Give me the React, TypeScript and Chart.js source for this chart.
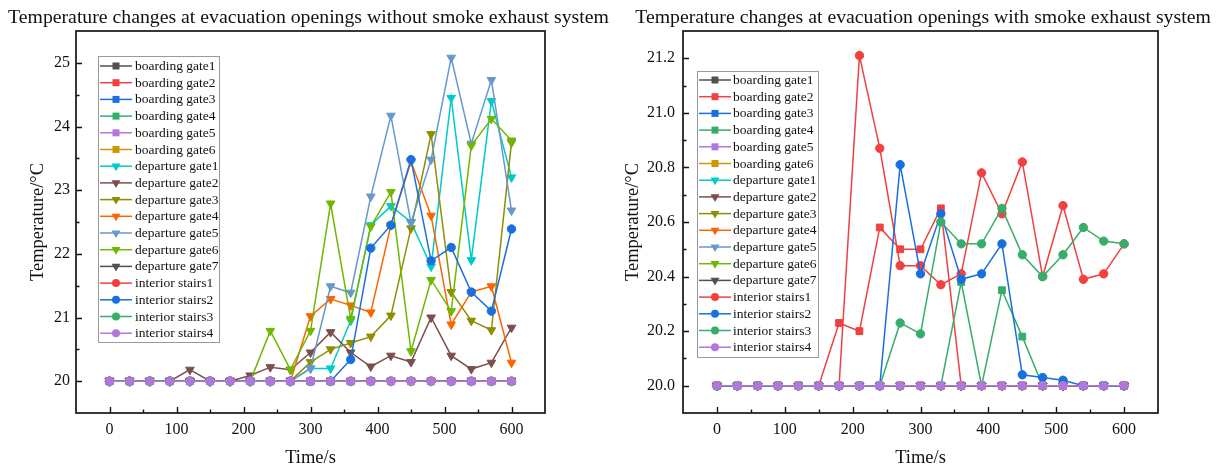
import React, { useEffect, useRef } from 'react';
import { Chart, registerables } from 'chart.js';

Chart.register(...registerables);

// ---------- data ----------
const TIMES = [0, 30, 60, 90, 120, 150, 180, 210, 240, 270, 300, 330, 360, 390, 420, 450, 480, 510, 540, 570, 600];

const SERIES_NAMES = [
  'boarding gate1', 'boarding gate2', 'boarding gate3', 'boarding gate4', 'boarding gate5', 'boarding gate6',
  'departure gate1', 'departure gate2', 'departure gate3', 'departure gate4', 'departure gate5', 'departure gate6', 'departure gate7',
  'interior stairs1', 'interior stairs2', 'interior stairs3', 'interior stairs4',
];
const SERIES_COLORS = [
  '#515151', '#F14040', '#1A6FDF', '#37AD6B', '#B177DE', '#CC9900',
  '#00CBCC', '#7D4E4E', '#8E8E00', '#FB6501', '#6699CC', '#6FB802', '#515151',
  '#F14040', '#1A6FDF', '#37AD6B', '#B177DE',
];
const SERIES_MARKERS = [
  'rect', 'rect', 'rect', 'rect', 'rect', 'rect',
  'tri', 'tri', 'tri', 'tri', 'tri', 'tri', 'tri',
  'circle', 'circle', 'circle', 'circle',
];

const X_TICKS = [0, 100, 200, 300, 400, 500, 600];
const X_MINOR = [50, 150, 250, 350, 450, 550];
const LEFT_Y_TICKS = [20, 21, 22, 23, 24, 25];
const LEFT_Y_MINOR = [20.5, 21.5, 22.5, 23.5, 24.5];
const RIGHT_Y_TICKS = [20.0, 20.2, 20.4, 20.6, 20.8, 21.0, 21.2];
const RIGHT_Y_MINOR = [20.1, 20.3, 20.5, 20.7, 20.9, 21.1];

const LEFT_TITLE = 'Temperature changes at evacuation openings without smoke exhaust system';
const RIGHT_TITLE = 'Temperature changes at evacuation openings with smoke exhaust system';
const X_TITLE = 'Time/s';
const Y_TITLE = 'Temperature/°C';

// without smoke exhaust system
const L_BG1 = [20, 20, 20, 20, 20, 20, 20, 20, 20, 20, 20, 20, 20, 20, 20, 20, 20, 20, 20, 20, 20];
const L_BG2 = [20, 20, 20, 20, 20, 20, 20, 20, 20, 20, 20, 20, 20, 20, 20, 20, 20, 20, 20, 20, 20];
const L_BG3 = [20, 20, 20, 20, 20, 20, 20, 20, 20, 20, 20, 20, 20, 20, 20, 20, 20, 20, 20, 20, 20];
const L_BG4 = [20, 20, 20, 20, 20, 20, 20, 20, 20, 20, 20, 20, 20, 20, 20, 20, 20, 20, 20, 20, 20];
const L_BG5 = [20, 20, 20, 20, 20, 20, 20, 20, 20, 20, 20, 20, 20, 20, 20, 20, 20, 20, 20, 20, 20];
const L_BG6 = [20, 20, 20, 20, 20, 20, 20, 20, 20, 20, 20, 20, 20, 20, 20, 20, 20, 20, 20, 20, 20];
const L_DEP1 = [20, 20, 20, 20, 20, 20, 20, 20, 20, 20, 20.2, 20.2, 20.95, 22.45, 22.75, 22.5, 21.8, 24.45, 21.9, 24.4, 23.2];
const L_DEP2 = [20, 20, 20, 20, 20.18, 20, 20, 20.09, 20.22, 20.18, 20.45, 20.77, 20.45, 20.23, 20.4, 20.3, 21.0, 20.4, 20.19, 20.29, 20.84];
const L_DEP3 = [20, 20, 20, 20, 20, 20, 20, 20, 20, 20, 20.3, 20.5, 20.6, 20.7, 21.03, 22.4, 23.88, 21.4, 20.95, 20.8, 23.75];
const L_DEP4 = [20, 20, 20, 20, 20, 20, 20, 20, 20, 20, 21.02, 21.29, 21.19, 21.08, 22.45, 23.45, 22.6, 20.89, 21.4, 21.49, 20.29];
const L_DEP5 = [20, 20, 20, 20, 20, 20, 20, 20, 20, 20, 20.2, 21.49, 21.39, 22.9, 24.17, 22.49, 23.48, 25.08, 23.73, 24.73, 22.68];
const L_DEP6 = [20, 20, 20, 20, 20, 20, 20, 20, 20.79, 20.18, 20.79, 22.79, 20.98, 22.43, 22.97, 20.47, 21.59, 21.1, 23.7, 24.12, 23.78];
const L_DEP7 = [20, 20, 20, 20, 20, 20, 20, 20, 20, 20, 20, 20, 20, 20, 20, 20, 20, 20, 20, 20, 20];
const L_ST1 = [20, 20, 20, 20, 20, 20, 20, 20, 20, 20, 20, 20, 20, 20, 20, 20, 20, 20, 20, 20, 20];
const L_ST2 = [20, 20, 20, 20, 20, 20, 20, 20, 20, 20, 20, 20, 20.34, 22.09, 22.45, 23.48, 21.89, 22.1, 21.4, 21.1, 22.39];
const L_ST3 = [20, 20, 20, 20, 20, 20, 20, 20, 20, 20, 20, 20, 20, 20, 20, 20, 20, 20, 20, 20, 20];
const L_ST4 = [20, 20, 20, 20, 20, 20, 20, 20, 20, 20, 20, 20, 20, 20, 20, 20, 20, 20, 20, 20, 20];

// with smoke exhaust system
const R_BG1 = [20, 20, 20, 20, 20, 20, 20, 20, 20, 20, 20, 20, 20, 20, 20, 20, 20, 20, 20, 20, 20];
const R_BG2 = [20, 20, 20, 20, 20, 20, 20.23, 20.2, 20.58, 20.5, 20.5, 20.65, 20, 20, 20, 20, 20, 20, 20, 20, 20];
const R_BG3 = [20, 20, 20, 20, 20, 20, 20, 20, 20, 20, 20, 20, 20, 20, 20, 20, 20, 20, 20, 20, 20];
const R_BG4 = [20, 20, 20, 20, 20, 20, 20, 20, 20, 20, 20, 20, 20.38, 20, 20.35, 20.18, 20, 20, 20, 20, 20];
const R_BG5 = [20, 20, 20, 20, 20, 20, 20, 20, 20, 20, 20, 20, 20, 20, 20, 20, 20, 20, 20, 20, 20];
const R_BG6 = [20, 20, 20, 20, 20, 20, 20, 20, 20, 20, 20, 20, 20, 20, 20, 20, 20, 20, 20, 20, 20];
const R_DEP1 = [20, 20, 20, 20, 20, 20, 20, 20, 20, 20, 20, 20, 20, 20, 20, 20, 20, 20, 20, 20, 20];
const R_DEP2 = [20, 20, 20, 20, 20, 20, 20, 20, 20, 20, 20, 20, 20, 20, 20, 20, 20, 20, 20, 20, 20];
const R_DEP3 = [20, 20, 20, 20, 20, 20, 20, 20, 20, 20, 20, 20, 20, 20, 20, 20, 20, 20, 20, 20, 20];
const R_DEP4 = [20, 20, 20, 20, 20, 20, 20, 20, 20, 20, 20, 20, 20, 20, 20, 20, 20, 20, 20, 20, 20];
const R_DEP5 = [20, 20, 20, 20, 20, 20, 20, 20, 20, 20, 20, 20, 20, 20, 20, 20, 20, 20, 20, 20, 20];
const R_DEP6 = [20, 20, 20, 20, 20, 20, 20, 20, 20, 20, 20, 20, 20, 20, 20, 20, 20, 20, 20, 20, 20];
const R_DEP7 = [20, 20, 20, 20, 20, 20, 20, 20, 20, 20, 20, 20, 20, 20, 20, 20, 20, 20, 20, 20, 20];
const R_ST1 = [20, 20, 20, 20, 20, 20, 20, 21.21, 20.87, 20.44, 20.44, 20.37, 20.41, 20.78, 20.63, 20.82, 20.4, 20.66, 20.39, 20.41, 20.52];
const R_ST2 = [20, 20, 20, 20, 20, 20, 20, 20, 20, 20.81, 20.41, 20.63, 20.39, 20.41, 20.52, 20.04, 20.03, 20.02, 20, 20, 20];
const R_ST3 = [20, 20, 20, 20, 20, 20, 20, 20, 20, 20.23, 20.19, 20.6, 20.52, 20.52, 20.65, 20.48, 20.4, 20.48, 20.58, 20.53, 20.52];
const R_ST4 = [20, 20, 20, 20, 20, 20, 20, 20, 20, 20, 20, 20, 20, 20, 20, 20, 20, 20, 20, 20, 20];

const LEFT_SERIES = [L_BG1, L_BG2, L_BG3, L_BG4, L_BG5, L_BG6, L_DEP1, L_DEP2, L_DEP3, L_DEP4, L_DEP5, L_DEP6, L_DEP7, L_ST1, L_ST2, L_ST3, L_ST4];
const RIGHT_SERIES = [R_BG1, R_BG2, R_BG3, R_BG4, R_BG5, R_BG6, R_DEP1, R_DEP2, R_DEP3, R_DEP4, R_DEP5, R_DEP6, R_DEP7, R_ST1, R_ST2, R_ST3, R_ST4];

// ---------- helpers ----------
const FONT = '"Liberation Serif", "Times New Roman", serif';
const PANEL_W = 611;
const PANEL_H = 467;

function buildDatasets(series: number[][]) {
  return series.map((vals, i) => {
    const m = SERIES_MARKERS[i];
    const c = SERIES_COLORS[i];
    return {
      label: SERIES_NAMES[i],
      data: vals.map((v, k) => ({ x: TIMES[k], y: v })),
      borderColor: c,
      backgroundColor: c,
      pointBackgroundColor: c,
      pointBorderColor: c,
      borderWidth: 1.5,
      pointBorderWidth: 1,
      pointStyle: m === 'rect' ? 'rect' : m === 'tri' ? 'triangle' : 'circle',
      pointRotation: m === 'tri' ? 180 : 0,
      pointRadius: m === 'rect' ? 4.8 : m === 'tri' ? 5 : 4.2,
      tension: 0,
      order: series.length - 1 - i,
    };
  });
}

function drawMarker(ctx: CanvasRenderingContext2D, kind: string, x: number, y: number, color: string) {
  ctx.fillStyle = color;
  ctx.beginPath();
  if (kind === 'rect') {
    ctx.rect(x - 3.5, y - 3.5, 7, 7);
  } else if (kind === 'tri') {
    ctx.moveTo(x - 4.5, y - 2.6);
    ctx.lineTo(x + 4.5, y - 2.6);
    ctx.lineTo(x, y + 5);
    ctx.closePath();
  } else {
    ctx.arc(x, y, 4, 0, Math.PI * 2);
  }
  ctx.fill();
}

const decorPlugin = {
  id: 'decor',
  afterDraw(chart: any, _args: any, opts: any) {
    const { ctx, chartArea: a, scales } = chart;
    const xs = scales.x;
    const ys = scales.y;
    ctx.save();
    ctx.strokeStyle = '#111';
    ctx.lineWidth = 1.4;
    ctx.beginPath();
    X_TICKS.forEach((v) => {
      const px = Math.round(xs.getPixelForValue(v)) + 0.5;
      ctx.moveTo(px, a.bottom);
      ctx.lineTo(px, a.bottom - 6);
    });
    X_MINOR.forEach((v) => {
      const px = Math.round(xs.getPixelForValue(v)) + 0.5;
      ctx.moveTo(px, a.bottom);
      ctx.lineTo(px, a.bottom - 3.5);
    });
    (opts.yMajor as number[]).forEach((v) => {
      const py = Math.round(ys.getPixelForValue(v)) + 0.5;
      ctx.moveTo(a.left, py);
      ctx.lineTo(a.left + 6, py);
    });
    (opts.yMinor as number[]).forEach((v) => {
      const py = Math.round(ys.getPixelForValue(v)) + 0.5;
      ctx.moveTo(a.left, py);
      ctx.lineTo(a.left + 3.5, py);
    });
    ctx.stroke();

    // frame
    ctx.lineWidth = 1.8;
    ctx.strokeStyle = '#222';
    ctx.strokeRect(a.left, a.top, a.right - a.left, a.bottom - a.top);

    // legend
    const L = opts.legend;
    ctx.fillStyle = '#fff';
    ctx.fillRect(L.x, L.y, L.w, L.h);
    ctx.lineWidth = 1;
    ctx.strokeStyle = '#9a9a9a';
    ctx.strokeRect(L.x + 0.5, L.y + 0.5, L.w, L.h);
    ctx.font = `13.5px ${FONT}`;
    ctx.textBaseline = 'middle';
    ctx.textAlign = 'left';
    SERIES_NAMES.forEach((name, i) => {
      const y = L.y0 + i * L.step;
      const c = SERIES_COLORS[i];
      ctx.strokeStyle = c;
      ctx.lineWidth = 1.5;
      ctx.beginPath();
      ctx.moveTo(L.lx1, y);
      ctx.lineTo(L.lx2, y);
      ctx.stroke();
      drawMarker(ctx, SERIES_MARKERS[i], L.mx, y, c);
      ctx.fillStyle = '#111';
      ctx.fillText(name, L.tx, y + 0.5);
    });

    // title
    ctx.font = `19.75px ${FONT}`;
    ctx.fillStyle = '#111';
    ctx.textAlign = 'center';
    ctx.textBaseline = 'middle';
    ctx.fillText(opts.title, opts.titleX, opts.titleY);
    ctx.restore();
  },
};

interface PanelCfg {
  series: number[][];
  yMin: number;
  yMax: number;
  yTicks: number[];
  yMinor: number[];
  yFmt: (v: number) => string;
  axisW: number;
  padRight: number;
  yTitlePad: number;
  tickPad: number;
  legend: any;
  title: string;
  titleX: number;
}

function makeChart(canvas: HTMLCanvasElement, cfg: PanelCfg) {
  return new Chart(canvas, {
    type: 'line',
    data: { datasets: buildDatasets(cfg.series) as any },
    plugins: [decorPlugin as any],
    options: {
      animation: false,
      responsive: false,
      devicePixelRatio: 1,
      layout: { padding: { top: 31, right: cfg.padRight, left: 0, bottom: 0 } },
      plugins: {
        legend: { display: false },
        title: { display: false },
        tooltip: { enabled: false },
        decor: {
          yMajor: cfg.yTicks,
          yMinor: cfg.yMinor,
          legend: cfg.legend,
          title: cfg.title,
          titleX: cfg.titleX,
          titleY: 17.5,
        },
      } as any,
      scales: {
        x: {
          type: 'linear',
          min: -50,
          max: 650,
          grid: { display: false, drawTicks: false },
          border: { display: false },
          afterBuildTicks: (s: any) => { s.ticks = X_TICKS.map((v) => ({ value: v })); },
          afterFit: (s: any) => { s.height = PANEL_H - 413; },
          ticks: {
            color: '#111',
            font: { family: FONT, size: 16 },
            padding: 7,
            maxRotation: 0,
            autoSkip: false,
            callback: (v: any) => String(v),
          },
          title: {
            display: true,
            text: X_TITLE,
            color: '#111',
            font: { family: FONT, size: 18.5, lineHeight: 1 },
            padding: { top: 0, bottom: 0 },
          },
        },
        y: {
          type: 'linear',
          min: cfg.yMin,
          max: cfg.yMax,
          grid: { display: false, drawTicks: false },
          border: { display: false },
          afterBuildTicks: (s: any) => { s.ticks = cfg.yTicks.map((v) => ({ value: v })); },
          afterFit: (s: any) => { s.width = cfg.axisW; },
          ticks: {
            color: '#111',
            font: { family: FONT, size: 16 },
            padding: cfg.tickPad,
            autoSkip: false,
            callback: (v: any) => cfg.yFmt(Number(v)),
          },
          title: {
            display: true,
            text: Y_TITLE,
            color: '#111',
            font: { family: FONT, size: 18.5, lineHeight: 1 },
            padding: { top: cfg.yTitlePad, bottom: 0 },
          },
        },
      },
    } as any,
  });
}

export default function App() {
  const leftRef = useRef<HTMLCanvasElement>(null);
  const rightRef = useRef<HTMLCanvasElement>(null);

  useEffect(() => {
    const left = makeChart(leftRef.current as HTMLCanvasElement, {
      series: LEFT_SERIES,
      yMin: 19.5,
      yMax: 25.5,
      yTicks: LEFT_Y_TICKS,
      yMinor: LEFT_Y_MINOR,
      yFmt: (v) => String(v),
      axisW: 76,
      padRight: PANEL_W - 545,
      yTitlePad: 29,
      tickPad: 6,
      legend: { x: 98, y: 56, w: 121, h: 286, y0: 66, step: 16.7, lx1: 100, lx2: 132, mx: 116, tx: 135 },
      title: LEFT_TITLE,
      titleX: 308.5,
    });
    const right = makeChart(rightRef.current as HTMLCanvasElement, {
      series: RIGHT_SERIES,
      yMin: 19.9,
      yMax: 21.3,
      yTicks: RIGHT_Y_TICKS,
      yMinor: RIGHT_Y_MINOR,
      yFmt: (v) => v.toFixed(1),
      axisW: 72,
      padRight: PANEL_W - 547,
      yTitlePad: 13,
      tickPad: 8,
      legend: { x: 86, y: 71, w: 121, h: 286, y0: 80, step: 16.7, lx1: 88, lx2: 120, mx: 104, tx: 122 },
      title: RIGHT_TITLE,
      titleX: 312,
    });
    return () => {
      left.destroy();
      right.destroy();
    };
  }, []);

  return (
    <div style={{ position: 'fixed', left: 0, top: 0, width: 1222, height: 467, background: '#fff', overflow: 'hidden' }}>
      <canvas ref={leftRef} width={PANEL_W} height={PANEL_H} style={{ position: 'absolute', left: 0, top: 0, width: PANEL_W, height: PANEL_H }} />
      <canvas ref={rightRef} width={PANEL_W} height={PANEL_H} style={{ position: 'absolute', left: PANEL_W, top: 0, width: PANEL_W, height: PANEL_H }} />
    </div>
  );
}
